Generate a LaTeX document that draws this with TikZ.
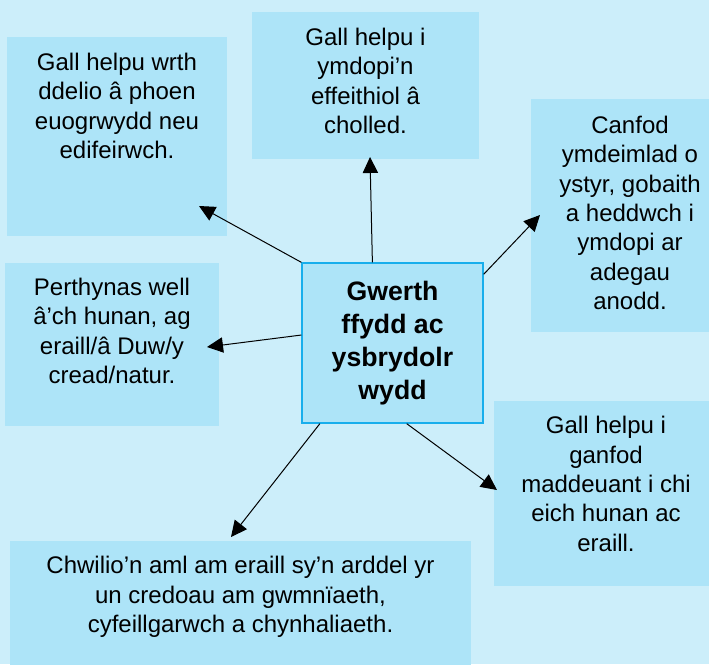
\documentclass[tikz,border=0pt]{standalone}
\usepackage{fontspec}
\setmainfont{Liberation Sans}
\usetikzlibrary{arrows.meta}

\definecolor{cefndir}{RGB}{204,238,250}
\definecolor{blwch}{RGB}{173,228,248}
\definecolor{ymyl}{RGB}{24,174,236}

\begin{document}
\begin{tikzpicture}[x=0.75pt, y=-0.75pt,
  panel/.style={fill=blwch, inner sep=0pt, anchor=north west},
  words/.style={anchor=north, align=center, inner sep=0pt, font=\fontsize{18}{22}\selectfont},
  arr/.style={-{Triangle[length=12pt,width=11.5pt]}, line width=0.75pt}]
  \useasboundingbox (0,0) rectangle (709,664);
  \fill[cefndir] (0,0) rectangle (709,664);

  % the six outer boxes
  \node[panel, minimum width=165pt, minimum height=149.25pt] (euog) at (7,37) {};
  \node[panel, minimum width=170.25pt, minimum height=110.25pt] (colled) at (252,12) {};
  \node[panel, minimum width=149.25pt, minimum height=174.75pt] (ystyr) at (531,99) {};
  \node[panel, minimum width=160.5pt, minimum height=122.25pt] (perthyn) at (5,263) {};
  \node[panel, minimum width=168pt, minimum height=138.75pt] (maddau) at (494,401) {};
  \node[panel, minimum width=345.75pt, minimum height=105pt] (cwmni) at (10,541) {};

  \node[words] (euogtext) at (117,53) {Gall helpu wrth\\ddelio â phoen\\euogrwydd neu\\edifeirwch.};
  \node[words] (colledtext) at (365.5,28) {Gall helpu i\\ymdopi’n\\effeithiol â\\cholled.};
  \node[words] (ystyrtext) at (630,116) {Canfod\\ymdeimlad o\\ystyr, gobaith\\a heddwch i\\ymdopi ar\\adegau\\anodd.};
  \node[words] (perthyntext) at (112,278) {Perthynas well\\â’ch hunan, ag\\eraill/â Duw/y\\cread/natur.};
  \node[words] (maddautext) at (606,416) {Gall helpu i\\ganfod\\maddeuant i chi\\eich hunan ac\\eraill.};
  \node[words] (cwmnitext) at (240.5,556) {Chwilio’n aml am eraill sy’n arddel yr\\un credoau am gwmnïaeth,\\cyfeillgarwch a chynhaliaeth.};

  % centre
  \node[draw=ymyl, line width=1pt, fill=blwch, minimum width=135.75pt, minimum height=120pt,
        inner sep=0pt, align=center, font=\fontsize{20}{24.75}\selectfont\bfseries]
        (ffydd) at (392.5,343) {Gwerth\\ffydd ac\\ysbrydolr\\wydd};

  \coordinate (euogend) at (199,206);
  \coordinate (colledend) at (370,157);
  \coordinate (ystyrend) at (540,215);
  \coordinate (perthynend) at (207,347);
  \coordinate (cwmniend) at (231,537);
  \coordinate (maddauend) at (497,490);

  \draw[arr] (ffydd.north west) -- (euogend);
  \draw[arr] (ffydd.104) -- (colledend);
  \draw[arr] (ffydd.37.7) -- (ystyrend);
  \draw[arr] (ffydd.175.6) -- (perthynend);
  \draw[arr] (ffydd.228.2) -- (cwmniend);
  \draw[arr] (ffydd.280.3) -- (maddauend);
\end{tikzpicture}
\end{document}
